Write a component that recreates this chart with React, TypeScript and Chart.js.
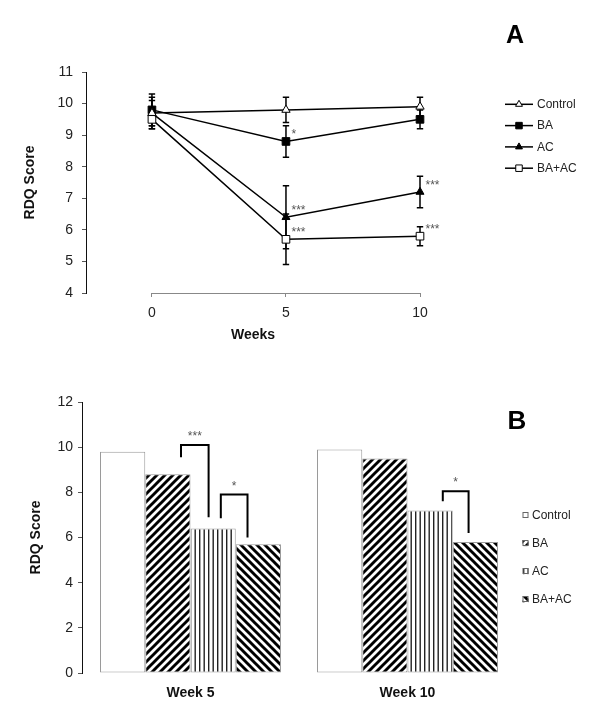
import React, { useEffect, useRef } from 'react';
import { Chart, registerables } from 'chart.js';

Chart.register(...registerables);

const FONT = '"Liberation Sans", Arial, Helvetica, sans-serif';

// ---------- Panel A data ----------
const weeks = [0, 5, 10];
const groupNames = ['Control', 'BA', 'AC', 'BA+AC'];
const controlMean = [9.7, 9.8, 9.9];
const baMean = [9.8, 8.8, 9.5];
const acMean = [9.7, 6.4, 7.2];
const baAcMean = [9.5, 5.7, 5.8];
const controlSD = [0.5, 0.4, 0.3];
const baSD = [0.5, 0.5, 0.3];
const acSD = [0.4, 1.0, 0.5];
const baAcSD = [0.3, 0.8, 0.3];
const controlSig = ['', '', ''];
const baSig = ['', '*', ''];
const acSig = ['', '***', '***'];
const baAcSig = ['', '***', '***'];
const yMinA = 4;
const yMaxA = 11;

// ---------- Panel B data ----------
const barCategories = ['Week 5', 'Week 10'];
const barControl = [9.8, 9.9];
const barBA = [8.8, 9.5];
const barAC = [6.4, 7.2];
const barBaAc = [5.7, 5.8];
const yMinB = 0;
const yMaxB = 12;
// significance brackets
const bracketCategory = [0, 0, 1];
const bracketFrom = [1, 2, 2];
const bracketTo = [2, 3, 3];
const bracketTop = [10.1, 7.9, 8.05];
const bracketLeftEnd = [9.55, 6.85, 7.6];
const bracketRightEnd = [6.9, 6.0, 6.2];
const bracketLabel = ['***', '*', '*'];

function makePattern(kind: 'fwd' | 'back' | 'vert'): CanvasPattern | string {
  const size = kind === 'vert' ? 9 : 8;
  const c = document.createElement('canvas');
  c.width = size;
  c.height = size;
  const g = c.getContext('2d');
  if (!g) return '#888';
  g.fillStyle = '#fff';
  g.fillRect(0, 0, size, size);
  if (kind === 'vert') {
    g.fillStyle = '#222';
    g.fillRect(1, 0, 1.4, size);
    g.fillRect(5.5, 0, 1.4, size);
  } else {
    g.strokeStyle = '#000';
    g.lineWidth = 2.9;
    g.beginPath();
    if (kind === 'fwd') {
      g.moveTo(-1, size + 1); g.lineTo(size + 1, -1);
      g.moveTo(-3, 3); g.lineTo(3, -3);
      g.moveTo(size - 3, size + 3); g.lineTo(size + 3, size - 3);
    } else {
      g.moveTo(-1, -1); g.lineTo(size + 1, size + 1);
      g.moveTo(size - 3, -3); g.lineTo(size + 3, 3);
      g.moveTo(-3, size - 3); g.lineTo(3, size + 3);
    }
    g.stroke();
  }
  return g.createPattern(c, 'repeat') || '#888';
}

function drawMarker(ctx: CanvasRenderingContext2D, style: string, fill: string, x: number, y: number, r: number) {
  ctx.save();
  ctx.fillStyle = fill;
  ctx.strokeStyle = '#000';
  ctx.lineWidth = 1;
  ctx.beginPath();
  if (style === 'triangle') {
    ctx.moveTo(x, y - r);
    ctx.lineTo(x + r * 0.866, y + r * 0.5);
    ctx.lineTo(x - r * 0.866, y + r * 0.5);
    ctx.closePath();
  } else {
    const s = r * Math.SQRT1_2;
    ctx.rect(x - s, y - s, 2 * s, 2 * s);
  }
  ctx.fill();
  ctx.stroke();
  ctx.restore();
}

function configA(): any {
  const means = [controlMean, baMean, acMean, baAcMean];
  const sds = [controlSD, baSD, acSD, baAcSD];
  const sigs = [controlSig, baSig, acSig, baAcSig];
  const styles = ['triangle', 'rect', 'triangle', 'rect'];
  const fills = ['#fff', '#000', '#000', '#fff'];
  const radii = [4.8, 5.4, 4.6, 5.4];
  const datasets = groupNames.map((name, i) => ({
    label: name,
    data: weeks.map((w, j) => ({ x: w, y: means[i][j] })),
    sd: sds[i],
    sig: sigs[i],
    borderColor: '#000',
    borderWidth: 1.5,
    pointStyle: styles[i],
    pointBackgroundColor: fills[i],
    pointBorderColor: '#000',
    pointBorderWidth: 1,
    pointRadius: radii[i],
    tension: 0,
    fill: false,
    clip: false,
  }));

  const plugin = {
    id: 'panelA',
    beforeDatasetsDraw(chart: any) {
      const { ctx, scales } = chart;
      const x = scales.x, y = scales.y;
      ctx.save();
      // x axis line between first and last week
      ctx.strokeStyle = '#888';
      ctx.lineWidth = 1;
      const by = Math.round(chart.chartArea.bottom) + 0.5;
      ctx.beginPath();
      ctx.moveTo(x.getPixelForValue(weeks[0]), by);
      ctx.lineTo(x.getPixelForValue(weeks[weeks.length - 1]) + 1, by);
      ctx.stroke();
      // error bars
      ctx.strokeStyle = '#000';
      ctx.lineWidth = 1.5;
      chart.data.datasets.forEach((ds: any, i: number) => {
        const meta = chart.getDatasetMeta(i);
        meta.data.forEach((pt: any, j: number) => {
          const m = ds.data[j].y;
          const s = ds.sd[j];
          const yt = y.getPixelForValue(m + s);
          const yb = y.getPixelForValue(m - s);
          const px = pt.x;
          ctx.beginPath();
          ctx.moveTo(px, yt); ctx.lineTo(px, yb);
          ctx.moveTo(px - 3.2, yt); ctx.lineTo(px + 3.2, yt);
          ctx.moveTo(px - 3.2, yb); ctx.lineTo(px + 3.2, yb);
          ctx.stroke();
        });
      });
      ctx.restore();
    },
    afterDatasetsDraw(chart: any) {
      const { ctx } = chart;
      ctx.save();
      // significance stars
      ctx.font = `12px ${FONT}`;
      ctx.fillStyle = '#555';
      ctx.textAlign = 'left';
      ctx.textBaseline = 'alphabetic';
      chart.data.datasets.forEach((ds: any, i: number) => {
        const meta = chart.getDatasetMeta(i);
        meta.data.forEach((pt: any, j: number) => {
          const t = ds.sig[j];
          if (t) ctx.fillText(t, pt.x + 5.5, pt.y - 10 + 7);
        });
      });
      // legend
      const lx0 = 505, lx1 = 533, ly0 = 104.3, dy = 21.3;
      chart.data.datasets.forEach((ds: any, i: number) => {
        const ly = ly0 + i * dy;
        ctx.strokeStyle = '#000';
        ctx.lineWidth = 1.5;
        ctx.beginPath();
        ctx.moveTo(lx0, ly); ctx.lineTo(lx1, ly);
        ctx.stroke();
        drawMarker(ctx, ds.pointStyle, ds.pointBackgroundColor, (lx0 + lx1) / 2, ly, ds.pointStyle === 'triangle' ? 4 : 4.6);
        ctx.fillStyle = '#222';
        ctx.font = `12px ${FONT}`;
        ctx.textAlign = 'left';
        ctx.textBaseline = 'middle';
        ctx.fillText(ds.label, 537, ly + 0.5);
      });
      // panel letter
      ctx.fillStyle = '#000';
      ctx.font = `bold 25px ${FONT}`;
      ctx.textAlign = 'center';
      ctx.textBaseline = 'middle';
      ctx.fillText('A', 515, 36);
      ctx.restore();
    },
  };

  return {
    type: 'line',
    data: { datasets },
    options: {
      responsive: false,
      animation: false,
      devicePixelRatio: 1,
      events: [],
      layout: { padding: { top: 72, right: 180, left: 0, bottom: 0 } },
      plugins: { legend: { display: false }, tooltip: { enabled: false } },
      scales: {
        x: {
          type: 'linear',
          min: -2.46,
          max: 10,
          afterBuildTicks: (s: any) => { s.ticks = weeks.map((v) => ({ value: v })); },
          afterFit: (s: any) => { s.height = 67; },
          ticks: { font: { family: FONT, size: 14 }, color: '#222', padding: 8, maxRotation: 0, autoSkip: false },
          grid: { drawOnChartArea: false, color: '#888', tickLength: 4 },
          border: { display: false },
          title: { display: true, text: 'Weeks', color: '#111', font: { family: FONT, size: 14, weight: 'bold' }, padding: { top: 0, bottom: 16.6 } },
        },
        y: {
          min: yMinA,
          max: yMaxA,
          afterFit: (s: any) => { s.width = 86; },
          ticks: { stepSize: 1, font: { family: FONT, size: 14 }, color: '#222', padding: 9 },
          grid: { drawOnChartArea: false, color: '#555', tickLength: 4 },
          border: { color: '#111', width: 1 },
          title: { display: true, text: 'RDQ Score', color: '#111', font: { family: FONT, size: 14, weight: 'bold' }, padding: { top: 21.6, bottom: 0 } },
        },
      },
    },
    plugins: [plugin],
  };
}

function configB(): any {
  const values = [barControl, barBA, barAC, barBaAc];
  const fills = ['#fff', makePattern('fwd'), makePattern('vert'), makePattern('back')];
  const datasets = groupNames.map((name, i) => ({
    label: name,
    data: values[i],
    backgroundColor: fills[i],
    borderColor: '#9a9a9a',
    borderWidth: 1,
    borderSkipped: false,
    categoryPercentage: 0.834,
    barPercentage: 1,
  }));
  const leftFrac = [0.79, 0.67, 0.78];
  const rightFrac = [0.4, 0.26, 0.35];

  const plugin = {
    id: 'panelB',
    afterDatasetsDraw(chart: any) {
      const { ctx, scales } = chart;
      const y = scales.y;
      ctx.save();
      // brackets
      bracketCategory.forEach((cat, k) => {
        const bl: any = chart.getDatasetMeta(bracketFrom[k]).data[cat];
        const br: any = chart.getDatasetMeta(bracketTo[k]).data[cat];
        const xl = bl.x - bl.width / 2 + bl.width * leftFrac[k];
        const xr = br.x - br.width / 2 + br.width * rightFrac[k];
        const yt = y.getPixelForValue(bracketTop[k]);
        const yl = y.getPixelForValue(bracketLeftEnd[k]);
        const yr = y.getPixelForValue(bracketRightEnd[k]);
        ctx.strokeStyle = '#000';
        ctx.lineWidth = 2;
        ctx.lineJoin = 'miter';
        ctx.beginPath();
        ctx.moveTo(xl, yl); ctx.lineTo(xl, yt); ctx.lineTo(xr, yt); ctx.lineTo(xr, yr);
        ctx.stroke();
        ctx.fillStyle = '#555';
        ctx.font = `12px ${FONT}`;
        ctx.textAlign = 'center';
        ctx.textBaseline = 'alphabetic';
        ctx.fillText(bracketLabel[k], (xl + xr) / 2, yt - 12 + 7);
      });
      // legend
      const sx = 522.5, ly0 = 155, dy = 28.1, sz = 6;
      chart.data.datasets.forEach((ds: any, i: number) => {
        const ly = ly0 + i * dy;
        ctx.fillStyle = ds.backgroundColor;
        ctx.fillRect(sx, ly - sz / 2, sz, sz);
        ctx.strokeStyle = '#666';
        ctx.lineWidth = 1;
        ctx.strokeRect(sx + 0.5, Math.round(ly - sz / 2) + 0.5, sz - 1, sz - 1);
        ctx.fillStyle = '#222';
        ctx.font = `12px ${FONT}`;
        ctx.textAlign = 'left';
        ctx.textBaseline = 'middle';
        ctx.fillText(ds.label, 532, ly + 0.5);
      });
      // panel letter
      ctx.fillStyle = '#000';
      ctx.font = `bold 26px ${FONT}`;
      ctx.textAlign = 'center';
      ctx.textBaseline = 'middle';
      ctx.fillText('B', 517, 62);
      ctx.restore();
    },
  };

  return {
    type: 'bar',
    data: { labels: barCategories, datasets },
    options: {
      responsive: false,
      animation: false,
      devicePixelRatio: 1,
      events: [],
      layout: { padding: { top: 42, right: 84, left: 0, bottom: 0 } },
      plugins: { legend: { display: false }, tooltip: { enabled: false } },
      scales: {
        x: {
          afterFit: (s: any) => { s.height = 47; },
          grid: { display: false, drawTicks: false },
          border: { display: false },
          ticks: { font: { family: FONT, size: 14, weight: 'bold' }, color: '#111', padding: 11.6, maxRotation: 0 },
        },
        y: {
          min: yMinB,
          max: yMaxB,
          afterFit: (s: any) => { s.width = 82; },
          ticks: { stepSize: 2, font: { family: FONT, size: 14 }, color: '#222', padding: 5 },
          grid: { drawOnChartArea: false, color: '#555', tickLength: 4 },
          border: { color: '#111', width: 1 },
          title: { display: true, text: 'RDQ Score', color: '#111', font: { family: FONT, size: 14, weight: 'bold' }, padding: { top: 27.3, bottom: 0 } },
        },
      },
    },
    plugins: [plugin],
  };
}

export default function App() {
  const refA = useRef<HTMLCanvasElement>(null);
  const refB = useRef<HTMLCanvasElement>(null);
  useEffect(() => {
    if (!refA.current || !refB.current) return;
    const a = new Chart(refA.current, configA());
    const b = new Chart(refB.current, configB());
    return () => {
      a.destroy();
      b.destroy();
    };
  }, []);
  return (
    <div style={{ position: 'absolute', left: 0, top: 0, width: 600, height: 720, background: '#fff' }}>
      <canvas ref={refA} width={600} height={360} style={{ position: 'absolute', left: 0, top: 0 }} />
      <canvas ref={refB} width={600} height={360} style={{ position: 'absolute', left: 0, top: 360 }} />
    </div>
  );
}
